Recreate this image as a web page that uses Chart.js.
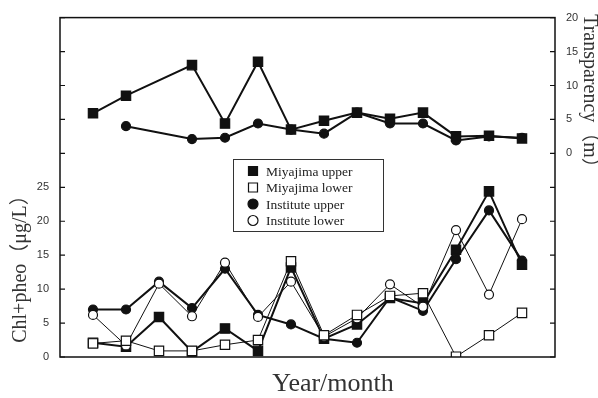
<!DOCTYPE html>
<html>
<head>
<meta charset="utf-8">
<script src="https://cdn.jsdelivr.net/npm/chart.js@4.4.1/dist/chart.umd.min.js"></script>
<style>
  html, body { margin: 0; padding: 0; background: #fff; }
  #wrap { width: 598px; height: 398px; }
</style>
</head>
<body>
<div id="wrap"><canvas id="chl"></canvas></div>
<script>
// sampling months (positions along x, no labels in the original)
const months = [1, 2, 3, 4, 5, 6, 7, 8, 9, 10, 11, 12, 13, 14];

// Chl+pheo (ug/L), left axis
const miyaUpper = [2.1, 1.5, 5.9, 0.8, 4.2, 0.9, 13.2, 2.7, 4.8, 8.7, 7.9, 15.8, 24.4, 13.6];
const miyaLower = [2.0, 2.4, 0.9, 0.9, 1.8, 2.5, 14.1, 3.2, 6.2, 9.0, 9.4, 0.05, 3.2, 6.5];
const instUpper = [7.0, 7.0, 11.1, 7.2, 13.0, 6.2, 4.8, 2.7, 2.1, 8.8, 6.8, 14.4, 21.6, 14.2];
const instLower = [6.2, 1.7, 10.8, 6.0, 13.9, 5.9, 11.1, 3.0, 5.7, 10.7, 7.4, 18.7, 9.2, 20.3];

// Transparency (m), right axis
const miyaTransp = [5.9, 8.5, null, 13.0, 4.4, 13.5, 3.5, 4.8, 6.0, 5.1, 6.0, 2.5, 2.6, 2.2];
const instTransp = [null, 4.0, null, 2.1, 2.3, 4.4, 3.5, 2.9, 6.0, 4.4, 4.4, 1.9, 2.5, 2.3];

const leftTicks = [0, 5, 10, 15, 20, 25];
const rightTicks = [0, 5, 10, 15, 20];

const pts = (vals) => months.map((m, i) => ({ x: m, y: vals[i] }));

const serif = "'Liberation Serif', 'DejaVu Serif', 'Noto Sans CJK JP', serif";
const sans = "'Liberation Sans', Arial, sans-serif";

// frame, inward tick marks, axis titles, legend box
const decor = {
  id: "decor",
  afterDraw(chart) {
    const { ctx, chartArea: a } = chart;
    const yl = chart.scales.y, yr = chart.scales.y2;
    ctx.save();
    ctx.strokeStyle = "#111";
    ctx.lineWidth = 1.5;
    ctx.strokeRect(a.left, a.top, a.right - a.left, a.bottom - a.top);
    ctx.lineWidth = 1.2;
    ctx.beginPath();
    for (let v = 0; v <= 50; v += 5) {
      const py = yl.getPixelForValue(v);
      ctx.moveTo(a.left, py); ctx.lineTo(a.left + 5, py);
    }
    for (let v = -30; v <= 20; v += 5) {
      const py = yr.getPixelForValue(v);
      ctx.moveTo(a.right - 5, py); ctx.lineTo(a.right, py);
    }
    ctx.stroke();

    // axis titles
    ctx.fillStyle = "#333";
    ctx.textAlign = "center";
    ctx.textBaseline = "middle";
    ctx.font = "20px " + serif;
    ctx.save();
    ctx.translate(21, 264);
    ctx.rotate(-Math.PI / 2);
    ctx.fillText("Chl+pheo（μg/L）", 0, 0);
    ctx.restore();
    ctx.save();
    ctx.translate(589, 96);
    ctx.rotate(Math.PI / 2);
    ctx.fillText("Transparency（m）", 0, 0);
    ctx.restore();
    ctx.font = "26px " + serif;
    ctx.fillText("Year/month", 333, 384);

    // legend
    const lx = 233, ly = 159, lw = 150, lh = 72;
    ctx.fillStyle = "#fff";
    ctx.fillRect(lx, ly, lw, lh);
    ctx.strokeStyle = "#333";
    ctx.lineWidth = 1;
    ctx.strokeRect(lx + 0.5, ly + 0.5, lw, lh);
    const items = chart.data.datasets.filter(d => d.inLegend);
    ctx.font = "13.5px " + serif;
    ctx.textAlign = "left";
    items.forEach((d, i) => {
      const cy = ly + 12 + i * 16.5;
      ctx.fillStyle = d.pointBackgroundColor;
      ctx.strokeStyle = "#111";
      ctx.lineWidth = 1.2;
      ctx.beginPath();
      if (d.pointStyle === "rect") {
        ctx.rect(253 - 4.5, cy - 4.5, 9, 9);
      } else {
        ctx.arc(253, cy, 5, 0, Math.PI * 2);
      }
      ctx.fill();
      ctx.stroke();
      ctx.fillStyle = "#222";
      ctx.fillText(d.label, 266, cy + 1);
    });
    ctx.restore();
  }
};

const series = (label, vals, style, filled, width, axis, legend, order) => ({
  label: label,
  data: pts(vals),
  yAxisID: axis,
  inLegend: legend,
  order: order,
  spanGaps: true,
  borderColor: "#111",
  borderWidth: width,
  tension: 0,
  pointStyle: style,
  pointRadius: style === "rect" ? 6.6 : 4.5,
  pointBorderWidth: 1.2,
  pointBorderColor: "#111",
  pointBackgroundColor: filled ? "#111" : "#fff",
  fill: false
});

new Chart(document.getElementById("chl"), {
  type: "line",
  data: {
    datasets: [
      series("Miyajima upper", miyaUpper, "rect", true, 2, "y", true, 3),
      series("Miyajima lower", miyaLower, "rect", false, 1, "y", true, 1),
      series("Institute upper", instUpper, "circle", true, 2, "y", true, 4),
      series("Institute lower", instLower, "circle", false, 1, "y", true, 2),
      series("Miyajima transparency", miyaTransp, "rect", true, 2, "y2", false, 5),
      series("Institute transparency", instTransp, "circle", true, 2, "y2", false, 6)
    ]
  },
  options: {
    responsive: true,
    maintainAspectRatio: false,
    animation: false,
    layout: { padding: { top: 16, left: 0, right: 0, bottom: 0 } },
    plugins: { legend: { display: false }, tooltip: { enabled: false } },
    scales: {
      x: {
        type: "linear",
        min: 0,
        max: 15,
        grid: { display: false, drawTicks: false },
        border: { display: false },
        ticks: { display: false },
        afterFit: (s) => { s.height = 41; }
      },
      y: {
        position: "left",
        min: 0,
        max: 50,
        grid: { display: false, drawTicks: false },
        border: { display: false },
        ticks: {
          stepSize: 5,
          autoSkip: false,
          padding: 11,
          color: "#333",
          font: { family: sans, size: 11 },
          callback: (v) => leftTicks.includes(v) ? String(v) : ""
        },
        afterFit: (s) => { s.width = 60; }
      },
      y2: {
        position: "right",
        min: -30,
        max: 20,
        grid: { display: false, drawTicks: false },
        border: { display: false },
        ticks: {
          stepSize: 5,
          autoSkip: false,
          padding: 11,
          color: "#333",
          font: { family: sans, size: 11 },
          callback: (v) => rightTicks.includes(v) ? String(v) : ""
        },
        afterFit: (s) => { s.width = 43; }
      }
    }
  },
  plugins: [decor]
});
</script>
</body>
</html>
